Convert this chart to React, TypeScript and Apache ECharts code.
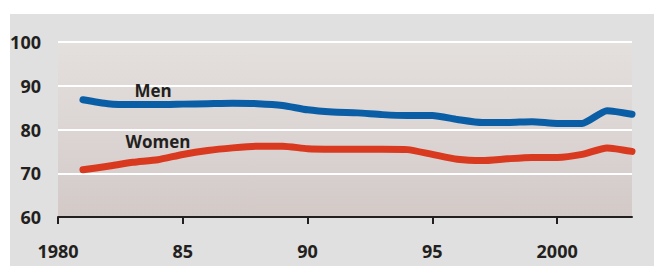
import React, { useEffect, useRef } from "react";
import * as echarts from "echarts";

const years = [1981, 1982, 1983, 1984, 1985, 1986, 1987, 1988, 1989, 1990, 1991, 1992, 1993, 1994, 1995, 1996, 1997, 1998, 1999, 2000, 2001, 2002, 2003];
const men = [86.8, 85.9, 85.7, 85.7, 85.8, 85.9, 86.0, 85.9, 85.5, 84.5, 84.0, 83.8, 83.4, 83.2, 83.2, 82.3, 81.6, 81.6, 81.8, 81.4, 81.4, 84.3, 83.5];
const women = [70.8, 71.6, 72.5, 73.1, 74.3, 75.2, 75.8, 76.2, 76.2, 75.6, 75.5, 75.5, 75.5, 75.4, 74.3, 73.2, 72.9, 73.3, 73.6, 73.6, 74.3, 75.8, 75.0];
const xTicks = [1980, 1985, 1990, 1995, 2000];
const seriesNames = ["Men", "Women"];

const FONT = "'Open Sans', 'Liberation Sans', sans-serif";
const TEXT = "#231f20";

export default function App() {
  const ref = useRef<HTMLDivElement>(null);
  useEffect(() => {
    if (!ref.current) return;
    const chart = echarts.init(ref.current, null, { renderer: "svg" });
    chart.setOption({
      animation: false,
      backgroundColor: "#ffffff",
      graphic: [
        {
          type: "rect",
          z: -10,
          silent: true,
          shape: { x: 10, y: 14, width: 660, height: 260 },
          style: { fill: "#dfe0df" },
        },
        {
          type: "text",
          z: 100,
          x: 153,
          y: 90,
          style: { text: seriesNames[0], font: `bold 17px ${FONT}`, fill: TEXT, align: "center", verticalAlign: "middle" },
        },
        {
          type: "text",
          z: 100,
          x: 158,
          y: 141,
          style: { text: seriesNames[1], font: `bold 17px ${FONT}`, fill: TEXT, align: "center", verticalAlign: "middle" },
        },
      ],
      grid: {
        left: 58,
        right: 22,
        top: 42,
        bottom: 49,
        show: true,
        borderWidth: 0,
        backgroundColor: new echarts.graphic.LinearGradient(0, 0, 0, 1, [
          { offset: 0, color: "#e4e0de" },
          { offset: 1, color: "#d3cac8" },
        ]),
      },
      xAxis: {
        type: "value",
        min: 1980,
        max: 2003,
        interval: 5,
        axisLine: { show: true, onZero: false, lineStyle: { color: TEXT, width: 2 } },
        axisTick: { show: true, length: 7, lineStyle: { color: TEXT, width: 2 }, customValues: xTicks },
        axisLabel: {
          customValues: xTicks,
          color: TEXT,
          fontFamily: FONT,
          fontWeight: "bold",
          fontSize: 18,
          margin: 25,
          formatter: (v: number) => (v === 1980 || v % 100 === 0 ? String(v) : String(v % 100).padStart(2, "0")),
        },
        splitLine: { show: false },
      },
      yAxis: {
        type: "value",
        min: 60,
        max: 100,
        interval: 10,
        axisLine: { show: false },
        axisTick: { show: false },
        axisLabel: { color: TEXT, fontFamily: FONT, fontWeight: "bold", fontSize: 18, margin: 17 },
        splitLine: { show: true, lineStyle: { color: "#ffffff", width: 2 } },
      },
      series: [
        {
          name: seriesNames[0],
          type: "line",
          data: years.map((y, i) => [y, men[i]]),
          symbol: "none",
          smooth: 0.2,
          lineStyle: { color: "#0a5ea6", width: 7, cap: "round", join: "round" },
          z: 5,
        },
        {
          name: seriesNames[1],
          type: "line",
          data: years.map((y, i) => [y, women[i]]),
          symbol: "none",
          smooth: 0.2,
          lineStyle: { color: "#d9391f", width: 7, cap: "round", join: "round" },
          z: 5,
        },
      ],
    });
    return () => chart.dispose();
  }, []);
  return <div ref={ref} style={{ position: "absolute", left: 0, top: 0, width: 654, height: 266 }} />;
}
